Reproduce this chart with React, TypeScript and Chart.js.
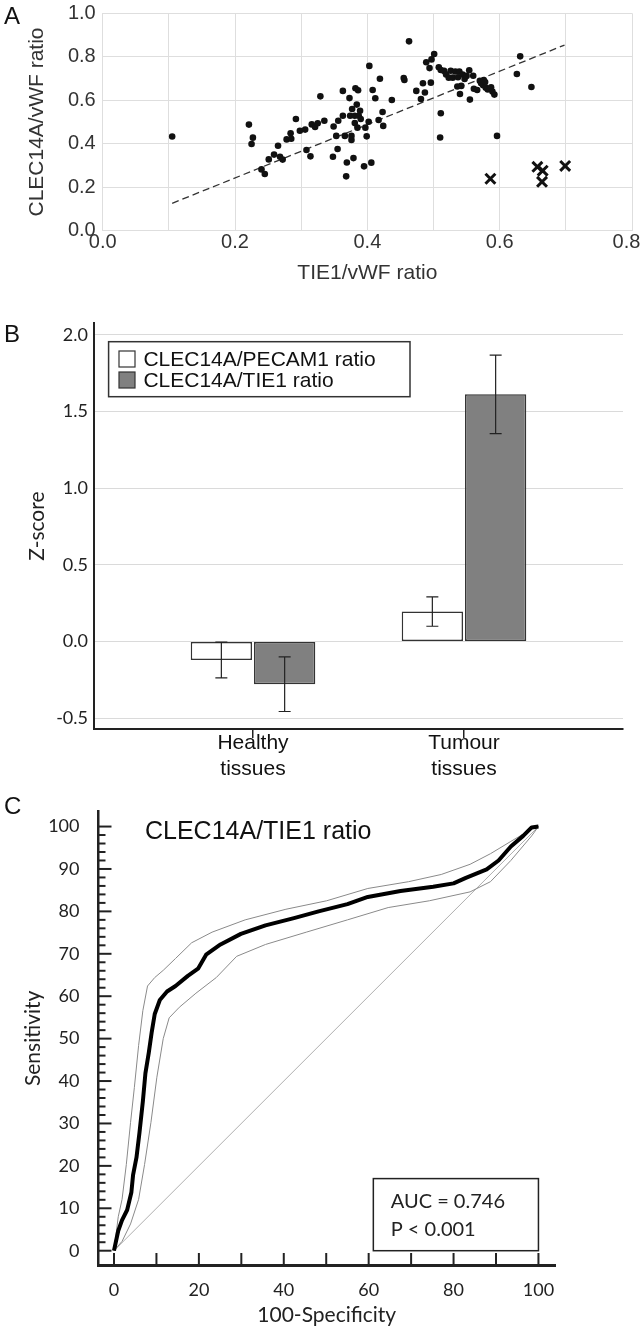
import React, { useEffect, useRef } from "react";
import { Chart, registerables } from "chart.js";

Chart.register(...registerables);

// ---------- Panel A: scatter ----------
const dotX = [0.105,0.221,0.225,0.227,0.240,0.245,0.251,0.259,0.265,0.268,
  0.272,0.278,0.284,0.285,0.292,0.298,0.306,0.308,0.314,0.316,
  0.321,0.325,0.329,0.335,0.348,0.349,0.353,0.355,0.356,0.363,
  0.363,0.366,0.368,0.369,0.373,0.374,0.376,0.376,0.377,0.379,
  0.381,0.381,0.382,0.384,0.385,0.386,0.387,0.389,0.390,0.395,
  0.397,0.399,0.402,0.403,0.406,0.408,0.412,0.417,0.419,0.423,
  0.424,0.437,0.455,0.456,0.463,0.474,0.481,0.484,0.487,0.489,
  0.494,0.496,0.497,0.501,0.508,0.510,0.511,0.511,0.516,0.519,
  0.523,0.526,0.529,0.533,0.536,0.537,0.539,0.540,0.542,0.544,
  0.547,0.550,0.554,0.555,0.560,0.561,0.566,0.570,0.572,0.575,
  0.576,0.578,0.579,0.582,0.587,0.589,0.592,0.596,0.626,0.631,0.648];
const dotY = [0.433,0.488,0.399,0.428,0.282,0.261,0.328,0.350,0.391,0.340,
  0.327,0.420,0.448,0.423,0.514,0.460,0.465,0.371,0.342,0.489,
  0.477,0.494,0.618,0.506,0.340,0.479,0.436,0.376,0.506,0.643,
  0.529,0.436,0.250,0.314,0.610,0.529,0.417,0.436,0.560,0.334,
  0.529,0.495,0.655,0.580,0.474,0.646,0.529,0.552,0.514,0.296,
  0.474,0.434,0.501,0.758,0.313,0.647,0.609,0.509,0.699,0.546,
  0.482,0.601,0.702,0.693,0.871,0.643,0.606,0.678,0.636,0.775,
  0.748,0.681,0.788,0.813,0.752,0.429,0.540,0.739,0.735,0.719,
  0.704,0.736,0.704,0.732,0.663,0.706,0.732,0.629,0.666,0.718,
  0.698,0.712,0.738,0.603,0.713,0.653,0.647,0.690,0.678,0.669,
  0.693,0.684,0.658,0.650,0.660,0.640,0.626,0.436,0.721,0.802,0.661];
const outlierX = [0.586, 0.657, 0.665, 0.664, 0.699];
const outlierY = [0.239, 0.294, 0.276, 0.225, 0.298];
const fitX = [0.105, 0.698];
const fitY = [0.126, 0.854];
const aXTitle = "TIE1/vWF ratio";
const aYTitle = "CLEC14A/vWF ratio";

// ---------- Panel B: bars ----------
const groupPos = [0, 1];
const groupLabels = [["Healthy", "tissues"], ["Tumour", "tissues"]];
const seriesNames = ["CLEC14A/PECAM1 ratio", "CLEC14A/TIE1 ratio"];
const pecamMean = [-0.12, 0.196];
const pecamErr = [0.116, 0.096];
const tie1Mean = [-0.278, 1.613];
const tie1Err = [0.178, 0.256];
const bYTitle = "Z-score";

// ---------- Panel C: ROC ----------
const rocFpr = [0,1.0,1.9,3.1,4.1,4.5,5.3,6.0,6.8,7.4,8.2,8.9,9.6,10.8,12.5,14.5,17.4,19.8,21.7,25.1,29.9,35.7,42.4,48.2,55.0,59.8,67.5,75.2,80.0,82.9,87.8,90.6,93.5,96.4,98.4,100];
const rocSens = [0,4.7,7.2,9.6,13.8,17.9,22.0,27.8,35.2,41.8,46.7,51.6,55.8,59.1,61.1,62.4,64.8,66.5,69.8,72.2,74.7,76.7,78.4,80.0,81.7,83.4,84.8,85.8,86.6,87.9,89.9,92.0,95.3,97.8,99.8,100];
const upX = [0,1.0,1.9,2.9,3.9,4.8,5.8,6.8,7.9,9.6,11.6,14.5,18.3,23.1,30.9,40.5,50.1,59.8,69.4,77.1,83.9,88.7,93.5,98.4,100];
const upY = [0,8.0,12.1,20.3,30.2,38.5,48.4,56.6,62.4,64.4,66.1,68.9,72.6,75.1,78.0,80.5,82.5,85.4,87.0,88.7,91.1,93.6,96.5,99.4,100];
const loX = [0,1.9,3.9,5.8,7.2,8.7,10.1,11.6,13.0,15.4,19.3,24.1,28.9,35.7,45.3,55.0,64.6,74.3,83.9,88.7,93.5,98.4,100];
const loY = [0,2.2,6.3,12.1,20.3,30.2,40.9,50.0,54.9,57.4,60.7,64.4,69.4,72.2,75.1,78.0,80.9,82.5,84.6,87.0,92.0,97.8,100];
const diagX = [0, 100];
const diagY = [0, 100];
const rocTitle = "CLEC14A/TIE1 ratio";
const aucLines = ["AUC = 0.746", "P < 0.001"];
const cXTitle = "100-Specificity";
const cYTitle = "Sensitivity";

const ARIAL = "'Liberation Sans', Arial, sans-serif";
const CALIBRI = "Lato, 'Open Sans', sans-serif";

const zip = (xs: number[], ys: number[]) => xs.map((x, i) => ({ x, y: ys[i] }));

const fixW = (w: number) => (s: any) => { s.width = w; s.paddingTop = 0; s.paddingBottom = 0; };
const fixH = (h: number) => (s: any) => { s.height = h; s.paddingLeft = 0; s.paddingRight = 0; };

const errorBarPlugin = {
  id: "errorBars",
  afterDatasetsDraw(chart: any) {
    const { ctx, scales } = chart;
    const y = scales.y;
    chart.data.datasets.forEach((ds: any, di: number) => {
      const meta = chart.getDatasetMeta(di);
      meta.data.forEach((bar: any, i: number) => {
        const v = ds.data[i].y;
        const e = ds.errors[i];
        const yt = y.getPixelForValue(v + e);
        const yb = y.getPixelForValue(v - e);
        ctx.save();
        ctx.strokeStyle = "#222";
        ctx.lineWidth = 1.2;
        ctx.beginPath();
        ctx.moveTo(bar.x, yt); ctx.lineTo(bar.x, yb);
        ctx.moveTo(bar.x - 6, yt); ctx.lineTo(bar.x + 6, yt);
        ctx.moveTo(bar.x - 6, yb); ctx.lineTo(bar.x + 6, yb);
        ctx.stroke();
        ctx.restore();
      });
    });
  },
};

const boxLegendPlugin = {
  id: "boxLegend",
  afterDraw(chart: any) {
    const { ctx, chartArea } = chart;
    const left = chartArea.left + 14.6;
    const top = chartArea.top + 18.4;
    const w = 301.4, h = 55;
    ctx.save();
    ctx.fillStyle = "#fff";
    ctx.fillRect(left, top, w, h);
    ctx.strokeStyle = "#333";
    ctx.lineWidth = 1.5;
    ctx.strokeRect(left, top, w, h);
    chart.data.datasets.forEach((ds: any, i: number) => {
      const cy = top + 17.3 + i * 21;
      ctx.fillStyle = ds.backgroundColor;
      ctx.fillRect(left + 10.4, cy - 8, 16, 16);
      ctx.lineWidth = 1.2;
      ctx.strokeStyle = "#333";
      ctx.strokeRect(left + 10.4, cy - 8, 16, 16);
      ctx.fillStyle = "#111";
      ctx.font = `21px ${ARIAL}`;
      ctx.textBaseline = "middle";
      ctx.textAlign = "left";
      ctx.fillText(ds.label, left + 34.8, cy + 1);
    });
    ctx.restore();
  },
};

const rocAnnoPlugin = {
  id: "rocAnno",
  afterDraw(chart: any) {
    const { ctx, chartArea, scales } = chart;
    const x = scales.x, y = scales.y;
    ctx.save();
    ctx.strokeStyle = "#222";
    ctx.lineWidth = 2;
    for (let v = 0; v <= 100; v += 2) {
      const py = y.getPixelForValue(v);
      const len = v % 10 === 0 ? 13 : 7;
      ctx.beginPath();
      ctx.moveTo(chartArea.left, py);
      ctx.lineTo(chartArea.left + len, py);
      ctx.stroke();
    }
    for (let v = 0; v <= 100; v += 10) {
      const px = x.getPixelForValue(v);
      ctx.beginPath();
      ctx.moveTo(px, chartArea.bottom);
      ctx.lineTo(px, chartArea.bottom - 12);
      ctx.stroke();
    }
    // AUC box
    const bx0 = x.getPixelForValue(61.1), bx1 = x.getPixelForValue(100);
    const by0 = y.getPixelForValue(17), by1 = y.getPixelForValue(0);
    ctx.fillStyle = "#fff";
    ctx.fillRect(bx0, by0, bx1 - bx0, by1 - by0);
    ctx.lineWidth = 1.5;
    ctx.strokeStyle = "#222";
    ctx.strokeRect(bx0, by0, bx1 - bx0, by1 - by0);
    ctx.fillStyle = "#222";
    ctx.font = `20px ${CALIBRI}`;
    ctx.textBaseline = "middle";
    ctx.textAlign = "left";
    ctx.fillText(aucLines[0], x.getPixelForValue(65.2), y.getPixelForValue(11.56));
    ctx.fillText(aucLines[1], x.getPixelForValue(65.2), y.getPixelForValue(5.05));
    // title
    ctx.fillStyle = "#111";
    ctx.font = `25px ${ARIAL}`;
    ctx.fillText(rocTitle, x.getPixelForValue(7.3), y.getPixelForValue(98.75));
    ctx.restore();
  },
};

export default function App() {
  const refA = useRef<HTMLCanvasElement>(null);
  const refB = useRef<HTMLCanvasElement>(null);
  const refC = useRef<HTMLCanvasElement>(null);

  useEffect(() => {
    const grid = "#dedede";
    const chartA = new Chart(refA.current as HTMLCanvasElement, {
      type: "scatter",
      data: {
        datasets: [
          { data: zip(dotX, dotY), pointRadius: 3.3, backgroundColor: "#111", borderColor: "#111", pointBorderWidth: 0 } as any,
          { data: zip(outlierX, outlierY), pointStyle: "crossRot", pointRadius: 7, borderColor: "#111", backgroundColor: "#111", pointBorderWidth: 3 } as any,
          { type: "line", data: zip(fitX, fitY), borderColor: "#333", borderWidth: 1.3, borderDash: [7, 4], pointRadius: 0, fill: false } as any,
        ],
      },
      options: {
        animation: false,
        responsive: false,
        layout: { padding: { top: 13.3, right: 9.3, left: 0, bottom: 0 } },
        plugins: { legend: { display: false }, tooltip: { enabled: false } },
        scales: {
          x: {
            type: "linear", min: 0, max: 0.8,
            afterFit: fixH(290 - 230.7),
            grid: { color: grid, drawTicks: false },
            border: { color: grid },
            ticks: {
              stepSize: 0.1, autoSkip: false, maxRotation: 0, padding: 0,
              color: "#333", font: { family: ARIAL, size: 20 },
              callback: (v: any) => {
                const k = Math.round(v * 10);
                if (k % 2 !== 0) return "";
                return k === 8 ? Number(v).toFixed(1) + "  " : Number(v).toFixed(1);
              },
            },
            title: { display: true, text: aXTitle, color: "#333", font: { family: ARIAL, size: 21 }, padding: { top: 0, bottom: 4.4 } },
          },
          y: {
            type: "linear", min: 0, max: 1,
            afterFit: fixW(102.7),
            grid: { color: grid, drawTicks: false },
            border: { color: grid },
            ticks: {
              stepSize: 0.2, padding: 7, color: "#333", font: { family: ARIAL, size: 20 },
              callback: (v: any) => Number(v).toFixed(1),
            },
            title: { display: true, text: aYTitle, color: "#333", font: { family: ARIAL, size: 21 }, padding: { top: 24.4, bottom: 0 } },
          },
        },
      } as any,
    });

    const chartB = new Chart(refB.current as HTMLCanvasElement, {
      type: "bar",
      data: {
        datasets: [
          { label: seriesNames[0], data: zip(groupPos, pecamMean), errors: pecamErr, backgroundColor: "#ffffff", borderColor: "#333", borderWidth: 1.5, borderSkipped: false } as any,
          { label: seriesNames[1], data: zip(groupPos, tie1Mean), errors: tie1Err, backgroundColor: "#808080", borderColor: "#333", borderWidth: 1.5, borderSkipped: false } as any,
        ],
      },
      options: {
        animation: false,
        responsive: false,
        categoryPercentage: 0.6,
        barPercentage: 0.968,
        layout: { padding: { top: 43.3, right: 19, left: 0, bottom: 0 } },
        plugins: { legend: { display: false }, tooltip: { enabled: false } },
        scales: {
          x: {
            type: "linear", min: -0.7536, max: 1.7536, offset: false,
            afterFit: fixH(61),
            grid: { offset: false, drawOnChartArea: false, drawTicks: true, tickLength: 9, color: "#222", lineWidth: 1.5 },
            border: { color: "#222", width: 2 },
            ticks: {
              stepSize: 1, includeBounds: false, autoSkip: false, maxRotation: 0, padding: -7,
              color: "#111", font: { family: ARIAL, size: 21, lineHeight: 1.2 },
              callback: (v: any) => {
                const i = groupPos.indexOf(Math.round(v));
                return i >= 0 ? groupLabels[i] : "";
              },
            },
          },
          y: {
            type: "linear", min: -0.57, max: 2.076,
            afterFit: fixW(94),
            grid: { color: "#dadada", drawTicks: false },
            border: { color: "#222", width: 2 },
            ticks: {
              stepSize: 0.5, includeBounds: false, padding: 6, color: "#222", font: { family: CALIBRI, size: 18 },
              callback: (v: any) => Number(v).toFixed(1),
            },
            title: { display: true, text: bYTitle, color: "#222", font: { family: CALIBRI, size: 21 }, padding: { top: 24.4, bottom: 0 } },
          },
        },
      } as any,
      plugins: [errorBarPlugin, boxLegendPlugin],
    });

    const chartC = new Chart(refC.current as HTMLCanvasElement, {
      type: "scatter",
      data: {
        datasets: [
          { data: zip(rocFpr, rocSens), showLine: true, borderColor: "#000", borderWidth: 4, pointRadius: 0, borderJoinStyle: "round", tension: 0 } as any,
          { data: zip(upX, upY), showLine: true, borderColor: "#8a8a8a", borderWidth: 1, pointRadius: 0, tension: 0 } as any,
          { data: zip(loX, loY), showLine: true, borderColor: "#8a8a8a", borderWidth: 1, pointRadius: 0, tension: 0 } as any,
          { data: zip(diagX, diagY), showLine: true, borderColor: "#9a9a9a", borderWidth: 0.8, pointRadius: 0 } as any,
        ],
      },
      options: {
        animation: false,
        responsive: false,
        layout: { padding: { top: 21.7, right: 87, left: 0, bottom: 0 } },
        plugins: { legend: { display: false }, tooltip: { enabled: false } },
        scales: {
          x: {
            type: "linear", min: -3.65, max: 103.9,
            afterFit: fixH(63),
            grid: { display: false },
            border: { display: true, color: "#222", width: 3 },
            ticks: {
              stepSize: 20, includeBounds: false, autoSkip: false, maxRotation: 0, padding: 6,
              color: "#222", font: { family: CALIBRI, size: 18 },
            },
            title: { display: true, text: cXTitle, color: "#222", font: { family: CALIBRI, size: 21 }, padding: { top: 0, bottom: 0.4 } },
          },
          y: {
            type: "linear", min: -3.37, max: 103.5,
            afterFit: fixW(98.5),
            grid: { display: false },
            border: { display: true, color: "#222", width: 2.5 },
            ticks: {
              stepSize: 10, includeBounds: false, padding: 11, color: "#222", font: { family: CALIBRI, size: 18 },
            },
            title: { display: true, text: cYTitle, color: "#222", font: { family: CALIBRI, size: 21 }, padding: { top: 20.4, bottom: 0 } },
          },
        },
      } as any,
      plugins: [rocAnnoPlugin],
    });

    return () => {
      chartA.destroy();
      chartB.destroy();
      chartC.destroy();
    };
  }, []);

  const letter = (t: string, top: number) => (
    <div style={{ position: "absolute", left: 4, top, fontFamily: ARIAL, fontSize: 24, lineHeight: 1, color: "#111" }}>{t}</div>
  );

  return (
    <div style={{ position: "absolute", left: 0, top: 0, width: 642, height: 1328, background: "#fff", overflow: "hidden" }}>
      <canvas ref={refA} width={642} height={290} style={{ position: "absolute", left: 0, top: 0 }} />
      <canvas ref={refB} width={642} height={510} style={{ position: "absolute", left: 0, top: 280 }} />
      <canvas ref={refC} width={642} height={538} style={{ position: "absolute", left: 0, top: 790 }} />
      {letter("A", 4)}
      {letter("B", 322)}
      {letter("C", 794)}
    </div>
  );
}
